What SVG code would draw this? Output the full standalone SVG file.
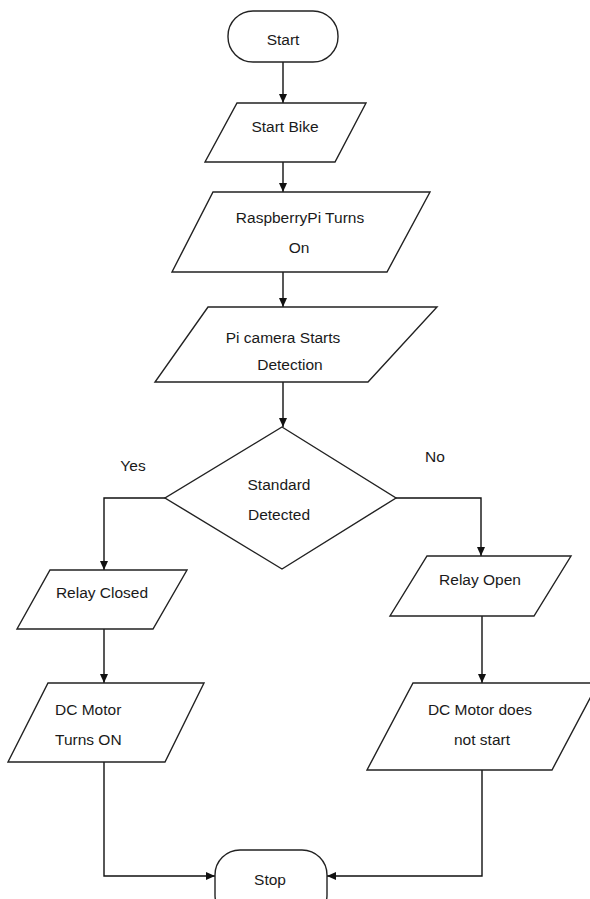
<svg xmlns="http://www.w3.org/2000/svg" width="590" height="899" viewBox="0 0 590 899">
<defs>
<marker id="arr" markerWidth="10" markerHeight="8" refX="9" refY="4" orient="auto" markerUnits="userSpaceOnUse">
<path d="M0,0 L9,4 L0,8 Z" fill="#111"/>
</marker>
<style>
.shape{fill:#fff;stroke:#222;stroke-width:1.4}
.conn{fill:none;stroke:#111;stroke-width:1.4;marker-end:url(#arr)}
text{font-family:"Liberation Sans",Arial,sans-serif;font-size:15.5px;fill:#1a1a1a}
.c{text-anchor:middle}
</style>
</defs>
<rect width="590" height="899" fill="#fff"/>
<g id="connectors">
<line class="conn" x1="283" y1="62" x2="283" y2="103"/>
<line class="conn" x1="283" y1="162" x2="283" y2="192"/>
<line class="conn" x1="283" y1="272" x2="283" y2="307"/>
<line class="conn" x1="283" y1="382" x2="283" y2="427"/>
<polyline class="conn" points="165,498 104,498 104,570"/>
<polyline class="conn" points="396,498 481,498 481,556"/>
<line class="conn" x1="104" y1="629" x2="104" y2="683"/>
<line class="conn" x1="482" y1="616" x2="482" y2="683"/>
<polyline class="conn" points="104,762 104,876 215,876"/>
<polyline class="conn" points="482,770 482,876 327,876"/>
</g>
<g id="start">
<rect class="shape" x="228" y="11" width="110" height="51" rx="25" ry="25"/>
<text class="c" x="283" y="45">Start</text>
</g>
<g id="start-bike">
<polygon class="shape" points="237,103 366,103 335,162 205,162"/>
<text class="c" x="285" y="132">Start Bike</text>
</g>
<g id="raspberry">
<polygon class="shape" points="213,192 430,192 387,272 172,272"/>
<text class="c" x="300" y="223">RaspberryPi Turns</text>
<text class="c" x="299" y="253">On</text>
</g>
<g id="picamera">
<polygon class="shape" points="208,307 437,307 368,382 155,382"/>
<text class="c" x="283" y="343">Pi camera Starts</text>
<text class="c" x="290" y="370">Detection</text>
</g>
<g id="decision">
<polygon class="shape" points="282,427 396,498 282,569 165,498"/>
<text class="c" x="279" y="490">Standard</text>
<text class="c" x="279" y="520">Detected</text>
</g>
<g id="labels">
<text class="c" x="133" y="471">Yes</text>
<text class="c" x="435" y="462">No</text>
</g>
<g id="relay-closed">
<polygon class="shape" points="50,570 187,570 153,629 17,629"/>
<text class="c" x="102" y="598">Relay Closed</text>
</g>
<g id="motor-on">
<polygon class="shape" points="48,683 204,683 165,762 8,762"/>
<text x="55" y="715">DC Motor</text>
<text x="55" y="745">Turns ON</text>
</g>
<g id="relay-open">
<polygon class="shape" points="427,556 571,556 534,616 390,616"/>
<text class="c" x="480" y="585">Relay Open</text>
</g>
<g id="motor-off">
<polygon class="shape" points="413,683 598,683 552,770 367,770"/>
<text class="c" x="480" y="715">DC Motor does</text>
<text class="c" x="482" y="745">not start</text>
</g>
<g id="stop">
<rect class="shape" x="215" y="850" width="112" height="70" rx="25" ry="25"/>
<text class="c" x="270" y="885">Stop</text>
</g>
</svg>
